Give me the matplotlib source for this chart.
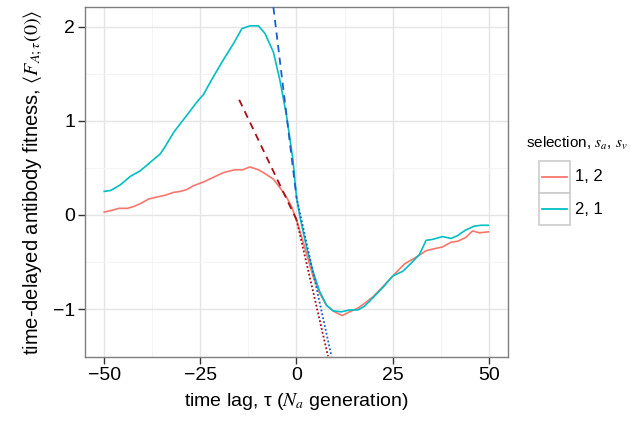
import numpy as np
import matplotlib
matplotlib.use("Agg")
import matplotlib.pyplot as plt
from matplotlib.lines import Line2D
from matplotlib.patches import Rectangle

plt.rcParams['font.family'] = ['Liberation Sans', 'DejaVu Sans']
plt.rcParams['mathtext.fontset'] = 'stix'

# selection 2,1 (cyan)
tau_b = [-50, -48.3, -45.8, -43.2, -40.6, -38, -35.4, -34.1, -31.9, -28.5, -25.9, -24.2,
         -21.6, -19, -16.4, -14.2, -12.1, -9.9, -8.2, -6, -4.3, -2.6, -0.9, 0, 0.9, 2.6,
         4.3, 6, 7.8, 9.5, 11.7, 13.8, 16, 17.7, 19.9, 22.5, 25, 27.6, 29.4, 32, 33.7,
         35.4, 38, 40.2, 41.9, 44, 46.2, 47.9, 49.9]
fit_b = [0.25, 0.26, 0.32, 0.41, 0.47, 0.56, 0.65, 0.73, 0.88, 1.06, 1.20, 1.28,
         1.47, 1.65, 1.82, 1.98, 2.01, 2.01, 1.93, 1.73, 1.43, 1.06, 0.58, 0.19, -0.02, -0.34,
         -0.60, -0.81, -0.96, -1.02, -1.03, -1.01, -1.01, -0.97, -0.88, -0.77, -0.65, -0.60, -0.53, -0.42, -0.27,
         -0.26, -0.23, -0.25, -0.22, -0.16, -0.12, -0.11, -0.11]

# selection 1,2 (red)
tau_a = [-50, -47.9, -46.2, -44, -42.3, -40.6, -38.4, -36.3, -34.1, -31.9, -30.2, -28.5,
         -26.8, -24.2, -21.6, -19, -16, -14, -12.1, -9.9, -8.2, -6, -4.3, -2.6, -1.3, 0,
         1.3, 2.6, 4.3, 6, 7.8, 9.9, 11.9, 13.8, 16, 17.7, 19.9, 22.5, 25.5, 28.1, 31.5,
         33.7, 35.8, 38, 40.2, 41.9, 44, 45.8, 47.5, 49.9]
fit_a = [0.03, 0.05, 0.07, 0.07, 0.09, 0.12, 0.17, 0.19, 0.21, 0.24, 0.25, 0.27,
         0.31, 0.35, 0.40, 0.45, 0.48, 0.48, 0.51, 0.48, 0.44, 0.38, 0.29, 0.19, 0.09, -0.05,
         -0.23, -0.41, -0.65, -0.83, -0.96, -1.03, -1.07, -1.03, -0.99, -0.94, -0.87, -0.76, -0.63, -0.52, -0.44,
         -0.38, -0.36, -0.34, -0.29, -0.28, -0.24, -0.17, -0.19, -0.18]

# linear approximations: intercept at tau=0, slope before / after, tau ranges
lin_a = dict(y0=-0.05, slope_neg=-0.0855, slope_pos=-0.177, tmin=-14.9, tmax=8.2)
lin_b = dict(y0=0.19, slope_neg=-0.336, slope_pos=-0.186, tmin=-6.0, tmax=9.1)

red, cyan = '#F8766D', '#00BFC4'
dred, dblue = '#A50F15', '#1B5FCC'

fig = plt.figure(figsize=(6.36, 4.28), dpi=100)
ax = fig.add_axes([0.1336, 0.1659, 0.6651, 0.8177])

ax.plot(tau_a, fit_a, color=red, lw=1.2, zorder=3)
ax.plot(tau_b, fit_b, color=cyan, lw=1.2, zorder=3)

for lin, c in [(lin_a, dred), (lin_b, dblue)]:
    t1 = np.array([lin['tmin'], 0])
    ax.plot(t1, lin['y0'] + lin['slope_neg'] * t1, color=c, lw=1.3, ls=(0, (4, 3)), zorder=4)
    t2 = np.array([0, lin['tmax']])
    ax.plot(t2, lin['y0'] + lin['slope_pos'] * t2, color=c, lw=1.3, ls=(0, (1, 1.2)), zorder=4)

ax.set_xlim(-55, 55)
ax.set_ylim(-1.51, 2.21)
ax.set_xticks([-50, -25, 0, 25, 50])
ax.set_xticklabels(['\u221250', '\u221225', '0', '25', '50'])
ax.set_yticks([-1, 0, 1, 2])
ax.set_yticklabels(['\u22121', '0', '1', '2'])
ax.set_xticks([-37.5, -12.5, 12.5, 37.5], minor=True)
ax.set_yticks([-0.5, 0.5, 1.5], minor=True)
ax.grid(True, which='major', color='#e5e5e5', lw=1.0)
ax.grid(True, which='minor', color='#f4f4f4', lw=0.7)
ax.set_axisbelow(True)
ax.tick_params(which='major', direction='out', length=5, width=1, color='#333333',
               labelsize=14, labelcolor='black', pad=2)
ax.tick_params(which='minor', length=0)
for s in ax.spines.values():
    s.set_color('#7f7f7f')
    s.set_linewidth(1.0)

ax.set_xlabel(r'time lag, τ ($N_a$ generation)', fontsize=14, labelpad=5)
ax.set_ylabel(r'time-delayed antibody fitness, $\langle F_{A;\tau}(0)\rangle$', fontsize=14.5, labelpad=6)

# legend drawn by hand (ggplot style keys)
W, H = 636.0, 428.0
fig.text(526 / W, 1 - 143 / H, r'selection, $s_a$, $s_v$', fontsize=11, va='center', ha='left')
for i, (lab, c) in enumerate([('1, 2', red), ('2, 1', cyan)]):
    top = 161 + 32 * i
    fig.patches.append(Rectangle((539 / W, 1 - (top + 32) / H), 31 / W, 32 / H,
                                 transform=fig.transFigure, fc='white', ec='#cccccc', lw=1.2))
    yc = 1 - (top + 16) / H
    fig.lines.append(Line2D([542 / W, 567 / W], [yc, yc], transform=fig.transFigure, color=c, lw=1.3))
    fig.text(575 / W, yc, lab, fontsize=12, va='center', ha='left')

fig.savefig('out.png', dpi=100)
